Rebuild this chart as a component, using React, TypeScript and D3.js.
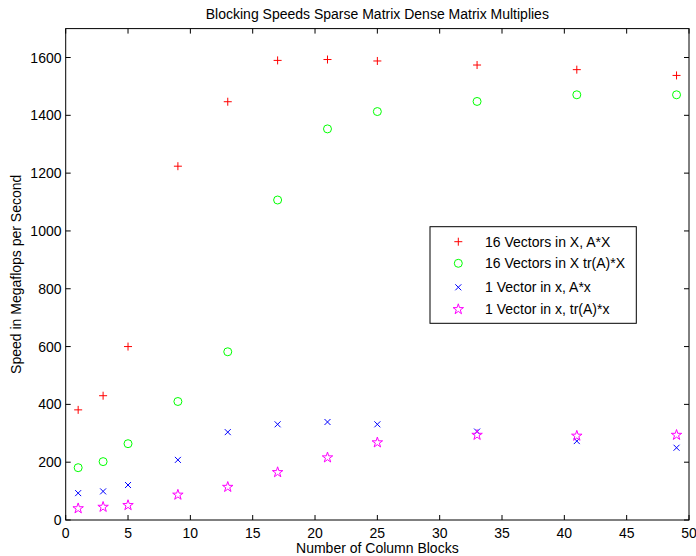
import React from "react";
import * as d3 from "d3";

const blocks = [1, 3, 5, 9, 13, 17, 21, 25, 33, 41, 49];
const vec16AX = [381, 430, 600, 1224, 1447, 1590, 1593, 1588, 1574, 1558, 1538];
const vec16TrAX = [181, 202, 264, 410, 582, 1107, 1353, 1413, 1448, 1471, 1471];
const vec1Ax = [93, 99, 121, 208, 304, 331, 339, 331, 306, 273, 250];
const vec1TrAx = [40, 45, 51, 87, 114, 165, 216, 268, 294, 291, 294];
const xTicks = [0, 5, 10, 15, 20, 25, 30, 35, 40, 45, 50];
const yTicks = [0, 200, 400, 600, 800, 1000, 1200, 1400, 1600];
const seriesNames = [
  "16 Vectors in X, A*X",
  "16 Vectors in X tr(A)*X",
  "1 Vector in x, A*x",
  "1 Vector in x, tr(A)*x",
];

const W = 696;
const H = 556;
const L = 65.7;
const R = 689;
const T = 28.6;
const B = 520;
const FONT = "'Liberation Sans', Arial, Helvetica, sans-serif";

function star(r: number) {
  const pts: [number, number][] = [];
  const ri = r * 0.382;
  for (let i = 0; i < 10; i++) {
    const a = -Math.PI / 2 + (i * Math.PI) / 5;
    const rr = i % 2 === 0 ? r : ri;
    pts.push([rr * Math.cos(a), rr * Math.sin(a)]);
  }
  return "M" + pts.map((p) => p[0].toFixed(2) + "," + p[1].toFixed(2)).join("L") + "Z";
}

function Marker({ kind, x, y }: { kind: number; x: number; y: number }) {
  if (kind === 0)
    return (
      <path d={`M${x - 4},${y}H${x + 4}M${x},${y - 4}V${y + 4}`} stroke="#ff0000" strokeWidth={1} fill="none" />
    );
  if (kind === 1) return <circle cx={x} cy={y} r={4} stroke="#00ff00" strokeWidth={1} fill="none" />;
  if (kind === 2)
    return (
      <path
        d={`M${x - 3},${y - 3}L${x + 3},${y + 3}M${x - 3},${y + 3}L${x + 3},${y - 3}`}
        stroke="#0000ff"
        strokeWidth={1}
        fill="none"
      />
    );
  return <path d={star(5.5)} transform={`translate(${x},${y})`} stroke="#ff00ff" strokeWidth={1} fill="none" />;
}

export default function App() {
  const x = d3.scaleLinear().domain([0, 50]).range([L, R]);
  const y = d3.scaleLinear().domain([0, 1700]).range([B, T]);
  const series = [vec16AX, vec16TrAX, vec1Ax, vec1TrAx];
  const tl = 5;
  const legY = [241.7, 263.3, 287.3, 309.3];

  return (
    <svg width={W} height={H} style={{ position: "absolute", left: 0, top: 0, background: "#fff" }} fontFamily={FONT}>
      <rect x={0} y={0} width={W} height={H} fill="#fff" />
      {series.map((s, k) =>
        s.map((v, i) => <Marker key={`${k}-${i}`} kind={k} x={x(blocks[i])} y={y(v)} />)
      )}
      {xTicks.map((t) => (
        <g key={"x" + t}>
          <line x1={x(t)} x2={x(t)} y1={B} y2={B - tl} stroke="#000" />
          <line x1={x(t)} x2={x(t)} y1={T} y2={T + tl} stroke="#000" />
          <text x={x(t)} y={538} textAnchor="middle" fontSize={14}>
            {t}
          </text>
        </g>
      ))}
      {yTicks.map((t) => (
        <g key={"y" + t}>
          <line x1={L} x2={L + tl} y1={y(t)} y2={y(t)} stroke="#000" />
          <line x1={R} x2={R - tl} y1={y(t)} y2={y(t)} stroke="#000" />
          <text x={61.5} y={y(t) + 5} textAnchor="end" fontSize={14}>
            {t}
          </text>
        </g>
      ))}
      <rect x={L} y={T} width={R - L} height={B - T} fill="none" stroke="#000" strokeWidth={1} />
      <text x={(L + R) / 2} y={19} textAnchor="middle" fontSize={14}>
        Blocking Speeds Sparse Matrix Dense Matrix Multiplies
      </text>
      <text x={(L + R) / 2} y={553} textAnchor="middle" fontSize={14}>
        Number of Column Blocks
      </text>
      <text transform={`translate(20.5,${(T + B) / 2}) rotate(-90)`} textAnchor="middle" fontSize={14}>
        Speed in Megaflops per Second
      </text>
      <rect x={430} y={226.7} width={206.3} height={96.6} fill="#fff" stroke="#000" strokeWidth={1} />
      {seriesNames.map((n, k) => (
        <g key={n}>
          <Marker kind={k} x={458.3} y={legY[k]} />
          <text x={485} y={legY[k] + 5} fontSize={14}>
            {n}
          </text>
        </g>
      ))}
    </svg>
  );
}
